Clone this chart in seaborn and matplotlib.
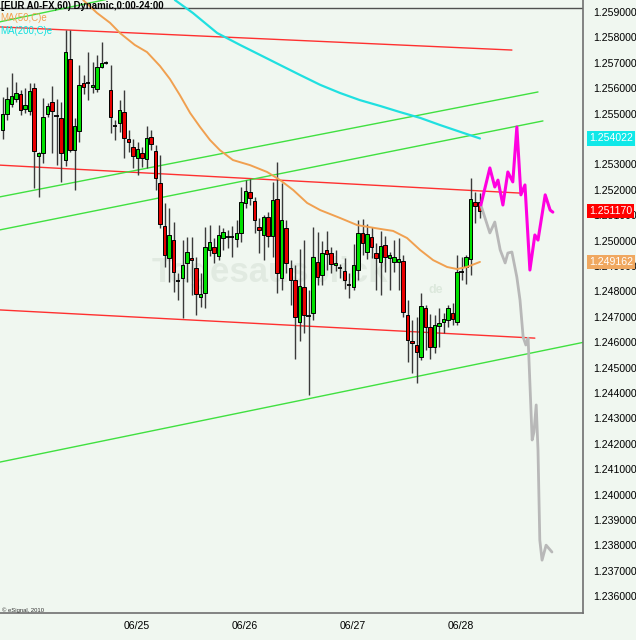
import numpy as np
import pandas as pd
import matplotlib
matplotlib.use("Agg")
import matplotlib.pyplot as plt
import matplotlib.transforms as mtransforms
import seaborn as sns

# ---------------- data (EUR A0-FX, 60 min candles) ----------------
opens = [1.25435,1.25498,1.25538,1.25557,1.25577,1.25518,1.25510,1.25601,1.25333,1.25345,
         1.25498,1.25545,1.25490,1.25482,1.25317,1.25715,1.25356,1.25431,1.25620,1.25620,
         1.25605,1.25597,1.25683,1.25699,1.25593,1.25451,1.25463,1.25506,1.25400,1.25368,
         1.25325,1.25345,1.25321,1.25408,1.25353,1.25227,1.25057,1.24931,1.25002,1.24841,
         1.24853,1.24912,1.24931,1.24892,1.24778,1.24794,1.24963,1.24975,1.24939,1.25010,
         1.25014,1.25014,1.25006,1.25030,1.25148,1.25191,1.25156,1.25053,1.25022,1.25093,
         1.25018,1.25164,1.24853,1.25049,1.24892,1.24845,1.24679,1.24817,1.24703,1.24715,
         1.24916,1.24864,1.24963,1.24951,1.24904,1.24892,1.24880,1.24825,1.24817,1.24884,
         1.25030,1.24955,1.25014,1.24951,1.24916,1.24982,1.24931,1.24916,1.24916,1.24920,
         1.24707,1.24605,1.24589,1.24542,1.24734,1.24660,1.24581,1.24664,1.24679,1.24687,
         1.24715,1.24679,1.24876,1.24896,1.24927,1.25152,1.25152]
highs = [1.25565,1.25605,1.25660,1.25624,1.25593,1.25601,1.25620,1.25620,1.25349,1.25561,
         1.25542,1.25609,1.25557,1.25545,1.25829,1.25829,1.25482,1.25691,1.25652,1.25742,
         1.25703,1.25731,1.25782,1.25707,1.25691,1.25475,1.25553,1.25593,1.25435,1.25400,
         1.25388,1.25368,1.25451,1.25435,1.25376,1.25337,1.25148,1.25128,1.25073,1.24872,
         1.25002,1.25014,1.25014,1.24935,1.24872,1.25053,1.25061,1.25010,1.25061,1.25049,
         1.25042,1.25057,1.25081,1.25211,1.25238,1.25242,1.25171,1.25089,1.25101,1.25112,
         1.25231,1.25309,1.25227,1.25081,1.24923,1.24904,1.24967,1.25002,1.24805,1.25053,
         1.25034,1.24998,1.25038,1.24975,1.24963,1.24908,1.24931,1.24872,1.24986,1.25081,
         1.25085,1.25065,1.25053,1.24990,1.25038,1.25018,1.24955,1.25002,1.25010,1.24943,
         1.24766,1.24687,1.24699,1.24794,1.24746,1.24711,1.24707,1.24734,1.24715,1.24746,
         1.24754,1.24943,1.24935,1.24943,1.25246,1.25191,1.25187]
lows = [1.25400,1.25475,1.25526,1.25545,1.25494,1.25502,1.25494,1.25207,1.25171,1.25305,
        1.25486,1.25345,1.25297,1.25231,1.25294,1.25349,1.25199,1.25388,1.25577,1.25553,
        1.25581,1.25585,1.25680,1.25695,1.25423,1.25396,1.25427,1.25325,1.25349,1.25286,
        1.25258,1.25290,1.25286,1.25356,1.25199,1.25049,1.24896,1.24837,1.24797,1.24766,
        1.24695,1.24837,1.24786,1.24707,1.24738,1.24734,1.24939,1.24912,1.24923,1.24963,
        1.24971,1.24935,1.24975,1.24994,1.25128,1.25140,1.25030,1.24951,1.24923,1.24975,
        1.24935,1.24794,1.24805,1.24872,1.24746,1.24534,1.24605,1.24636,1.24392,1.24687,
        1.24825,1.24825,1.24884,1.24872,1.24880,1.24853,1.24809,1.24774,1.24805,1.24845,
        1.24943,1.24927,1.24931,1.24805,1.24786,1.24876,1.24805,1.24876,1.24805,1.24699,
        1.24522,1.24479,1.24439,1.24530,1.24569,1.24534,1.24557,1.24581,1.24636,1.24660,
        1.24667,1.24667,1.24845,1.24829,1.24864,1.25069,1.25089]
closes = [1.25498,1.25557,1.25569,1.25581,1.25514,1.25534,1.25589,1.25353,1.25345,1.25486,
          1.25530,1.25510,1.25490,1.25345,1.25742,1.25356,1.25451,1.25612,1.25605,1.25620,
          1.25612,1.25683,1.25699,1.25699,1.25486,1.25451,1.25514,1.25404,1.25388,1.25333,
          1.25360,1.25325,1.25404,1.25380,1.25246,1.25065,1.24943,1.25022,1.24876,1.24841,
          1.24904,1.24955,1.24923,1.24790,1.24790,1.24975,1.24994,1.24951,1.25022,1.25034,
          1.25014,1.25014,1.25030,1.25152,1.25195,1.25168,1.25081,1.25042,1.25093,1.25018,
          1.25160,1.24872,1.25081,1.24912,1.24845,1.24699,1.24821,1.24707,1.24703,1.24935,
          1.24856,1.24951,1.24947,1.24908,1.24912,1.24892,1.24845,1.24825,1.24904,1.25030,
          1.24990,1.25026,1.24975,1.24931,1.24979,1.24935,1.24943,1.24935,1.24927,1.24719,
          1.24608,1.24597,1.24561,1.24742,1.24660,1.24581,1.24667,1.24675,1.24691,1.24734,
          1.24691,1.24876,1.24876,1.24935,1.25164,1.25136,1.25117]

# date ticks (bar index of session start) and labels
date_pos = [27, 51, 75, 99]
date_labels = ["06/25", "06/26", "06/27", "06/28"]

# moving averages (bar index, price)
ma50_x = [17.9, 21.0, 23.9, 26.1, 29.4, 32.1, 35.0, 37.2, 39.4, 41.7, 43.9, 46.1, 48.3, 51.2,
          55.0, 58.8, 61.7, 64.6, 67.7, 70.6, 75.0, 78.8, 83.9, 86.8, 89.9, 92.8, 95.7, 98.8,
          101.0, 103.2, 106.1]
ma50_y = [1.25947, 1.25896, 1.25857, 1.25817, 1.25770, 1.25742, 1.25687, 1.25636, 1.25573,
          1.25502, 1.25447, 1.25396, 1.25356, 1.25317, 1.25297, 1.25270, 1.25238, 1.25199,
          1.25148, 1.25120, 1.25089, 1.25061, 1.25046, 1.25038, 1.25010, 1.24963, 1.24923,
          1.24896, 1.24888, 1.24896, 1.24916]
ma200_x = [38.3, 42.3, 47.7, 52.8, 57.2, 61.7, 66.1, 70.6, 75.0, 79.4, 83.9, 88.3, 92.8,
           97.2, 101.7, 106.1]
ma200_y = [1.25947, 1.25896, 1.25817, 1.25770, 1.25731, 1.25691, 1.25652, 1.25613, 1.25581,
           1.25553, 1.25530, 1.25506, 1.25483, 1.25455, 1.25428, 1.25402]

# trend lines: (x0, y0, x1, y1)
red_lines = [(-0.6, 1.25841, 113.2, 1.25750),
             (-0.6, 1.25297, 115.0, 1.25187),
             (-0.6, 1.24727, 118.3, 1.24616)]
green_lines = [(-0.6, 1.25172, 119.0, 1.25585),
               (-0.6, 1.25042, 120.1, 1.25471),
               (-0.6, 1.24128, 130.6, 1.24605),
               (-0.6, 1.25861, 30.0, 1.25975)]
pane_top = 1.25915

# projected paths
proj_grey_x = [106.3, 108.3, 109.4, 110.6, 111.7, 112.3, 113.2, 114.3, 115.0, 115.7, 116.3,
               116.8, 117.2, 117.7, 118.1, 118.6, 119.0, 119.4, 119.9, 120.8, 122.1]
proj_grey_y = [1.25140, 1.25030, 1.25073, 1.24963, 1.24912, 1.24951, 1.24955, 1.24856,
               1.24766, 1.24620, 1.24589, 1.24616, 1.24439, 1.24215, 1.24246, 1.24353,
               1.24175, 1.23821, 1.23742, 1.23801, 1.23774]
proj_mag_x = [106.3, 108.3, 109.4, 110.1, 111.2, 112.3, 113.4, 114.3, 115.2, 116.1, 117.2,
              118.3, 119.0, 120.6, 121.7, 122.3]
proj_mag_y = [1.25140, 1.25286, 1.25211, 1.25238, 1.25140, 1.25270, 1.25231, 1.25447,
              1.25180, 1.25219, 1.24884, 1.25022, 1.25002, 1.25180, 1.25120, 1.25112]

last_ma200 = 1.254022
last_close = 1.251170
last_ma50 = 1.249162

y_ticks = [1.236, 1.237, 1.238, 1.239, 1.240, 1.241, 1.242, 1.243, 1.244, 1.245, 1.246,
           1.247, 1.248, 1.249, 1.250, 1.251, 1.252, 1.253, 1.255, 1.256, 1.257,
           1.258, 1.259]

# ---------------- drawing ----------------
BG = "#F0F7F0"
W, H = 636, 640
sns.set_theme(style="white")
plt.rcParams['font.family'] = ['Liberation Sans', 'DejaVu Sans']

fig = plt.figure(figsize=(W / 100, H / 100), dpi=100, facecolor=BG)
ax = fig.add_axes([0, (H - 613) / H, 583 / W, 613 / H])
ax.set_facecolor(BG)

# faint watermark
ax.text(0.26, 0.555, "Tagesausblick", transform=ax.transAxes, fontsize=25,
        fontweight="bold", color="#E1EAE1", ha="left", va="center", zorder=0)
ax.text(0.735, 0.527, "de", transform=ax.transAxes, fontsize=9,
        fontweight="bold", color="#DCE8DC", ha="left", va="center", zorder=0)

df = pd.DataFrame({"o": opens, "h": highs, "l": lows, "c": closes})
df["i"] = np.arange(len(df))
up = df[df.c > df.o]
dn = df[df.c < df.o]
dj = df[df.c == df.o]

ax.vlines(df.i, df.l, df.h, color="#3a3a3a", lw=1.0, zorder=3)
ax.bar(up.i, up.c - up.o, bottom=up.o, width=0.78, color="#00E000",
       edgecolor="black", linewidth=0.7, zorder=4)
ax.bar(dn.i, dn.o - dn.c, bottom=dn.c, width=0.78, color="#E80000",
       edgecolor="black", linewidth=0.7, zorder=4)
ax.hlines(dj.o, dj.i - 0.45, dj.i + 0.45, color="black", lw=1.3, zorder=4)

for x0, y0, x1, y1 in red_lines:
    ax.plot([x0, x1], [y0, y1], color="#FF3030", lw=1.0, zorder=2)
for x0, y0, x1, y1 in green_lines:
    ax.plot([x0, x1], [y0, y1], color="#40E040", lw=1.0, zorder=2)
ax.axhline(pane_top, color="#505050", lw=1.0, zorder=1)

sns.lineplot(x=ma50_x, y=ma50_y, ax=ax, color="#F0A050", lw=1.4, sort=False,
             estimator=None, zorder=5)
sns.lineplot(x=ma200_x, y=ma200_y, ax=ax, color="#20E0E0", lw=1.6, sort=False,
             estimator=None, zorder=5)
sns.lineplot(x=proj_grey_x, y=proj_grey_y, ax=ax, color="#B8B8B8", lw=2.0, sort=False,
             estimator=None, zorder=5)
sns.lineplot(x=proj_mag_x, y=proj_mag_y, ax=ax, color="#FF00E0", lw=2.2, sort=False,
             estimator=None, zorder=6)

ax.set_xlim(-0.56, 129.0)
ax.set_ylim(1.23534, 1.25947)

# axes styling
for s in ["left", "top"]:
    ax.spines[s].set_visible(False)
for s in ["right", "bottom"]:
    ax.spines[s].set_color("#707070")
    ax.spines[s].set_linewidth(1.2)

ax.yaxis.tick_right()
ax.set_yticks(y_ticks)
ax.set_yticklabels([f"{v:.6f}" for v in y_ticks])
ax.tick_params(axis="y", length=0, pad=7, labelsize=7.6, labelcolor="black")
ax.set_xticks(date_pos)
ax.set_xticklabels(date_labels)
ax.tick_params(axis="x", length=3, direction="in", pad=6, labelsize=7.6,
               labelcolor="black", color="#707070")
for lab in ax.get_xticklabels():
    lab.set_horizontalalignment("left")
ax.set_xlabel("")
ax.set_ylabel("")
ax.grid(False)

# value badges on the price scale
trans = mtransforms.blended_transform_factory(ax.transAxes, ax.transData)
for val, col in [(last_ma200, "#10E8E8"), (last_close, "#FF0000"), (last_ma50, "#F0A860")]:
    ax.text(1.0 + 6 / 583, val, f"{val:.6f}", transform=trans, ha="left", va="center",
            fontsize=7.6, color="white", zorder=10, clip_on=False,
            bbox=dict(boxstyle="square,pad=0.22", fc=col, ec="none"))

# header texts
def fx(px):
    return px / W

def fy(py):
    return 1 - py / H

fig.text(fx(1), fy(6), "[EUR A0-FX,60) Dynamic,0:00-24:00", fontsize=6.9,
         fontweight="bold", color="black", va="center", ha="left")
fig.text(fx(0), fy(18), "MA(50,C)e", fontsize=7.0, color="#F0A050", va="center", ha="left")
fig.text(fx(0), fy(31), "MA(200,C)e", fontsize=7.0, color="#10E0E0", va="center", ha="left")
fig.text(fx(2), fy(610), "© eSignal, 2010", fontsize=4.2, color="#333333", va="center",
         ha="left")

fig.savefig("out.png", dpi=100, facecolor=BG)
